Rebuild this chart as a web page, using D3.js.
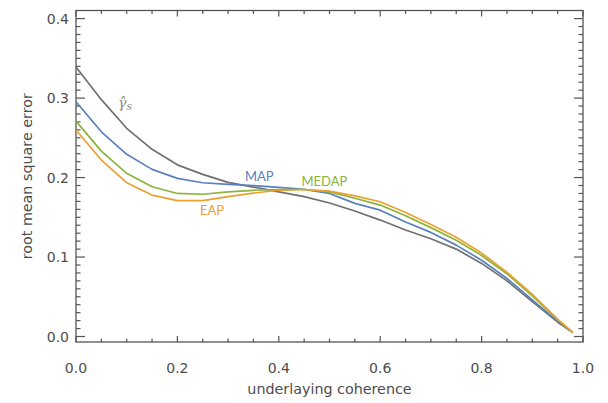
<!DOCTYPE html>
<html><head><meta charset="utf-8">
<script src="https://cdn.jsdelivr.net/npm/d3@7"></script>
<style>
html,body{margin:0;padding:0;background:#fff;}
svg{display:block;}
</style></head>
<body>
<svg id="c" width="608" height="403"></svg>
<script>
const coherence = [0,0.05,0.1,0.15,0.2,0.25,0.3,0.35,0.4,0.45,0.5,0.55,0.6,0.65,0.7,0.75,0.8,0.85,0.9,0.95,0.98];
const gammaS = [0.339,0.298,0.262,0.2355,0.216,0.204,0.194,0.188,0.182,0.176,0.168,0.158,0.1465,0.134,0.123,0.110,0.092,0.070,0.044,0.018,0.005];
const mapErr = [0.2953,0.2576,0.2292,0.2103,0.199,0.1935,0.1914,0.190,0.1877,0.1852,0.180,0.1675,0.159,0.144,0.131,0.115,0.096,0.073,0.046,0.019,0.005];
const medapErr = [0.271,0.2333,0.2053,0.1884,0.180,0.179,0.182,0.184,0.185,0.185,0.182,0.174,0.1654,0.152,0.137,0.121,0.102,0.079,0.051,0.021,0.005];
const eapErr = [0.2598,0.222,0.1935,0.178,0.171,0.171,0.176,0.1805,0.184,0.185,0.183,0.177,0.1696,0.156,0.141,0.125,0.105,0.081,0.053,0.022,0.005];
const xTicks = [0,0.2,0.4,0.6,0.8,1.0];
const yTicks = [0,0.1,0.2,0.3,0.4];
const seriesNames = ["γ̂s","MAP","MEDAP","EAP"];

const svg = d3.select("#c");
const L = 76, R = 583, T = 10.5, B = 342;
const x = d3.scaleLinear().domain([0,1]).range([L,R]);
const y = d3.scaleLinear().domain([-0.0069,0.4102]).range([B,T]);
const axisColor = "#555";
const textColor = "#4d4d4d";
const tickFont = "'DejaVu Sans', sans-serif";

// frame
svg.append("rect").attr("x",L).attr("y",T).attr("width",R-L).attr("height",B-T)
  .attr("fill","none").attr("stroke",axisColor).attr("stroke-width",1.3);

const xMinor = d3.range(0,1.0001,0.05);
const yMinor = d3.range(0,0.41,0.01);
const g = svg.append("g").attr("stroke",axisColor).attr("stroke-width",1.2);
xMinor.forEach(v=>{
  const major = xTicks.some(t=>Math.abs(t-v)<1e-6);
  const len = major?6:3.5;
  g.append("line").attr("x1",x(v)).attr("x2",x(v)).attr("y1",B).attr("y2",B-len);
  g.append("line").attr("x1",x(v)).attr("x2",x(v)).attr("y1",T).attr("y2",T+len);
});
yMinor.forEach(v=>{
  const major = yTicks.some(t=>Math.abs(t-v)<1e-6);
  const len = major?9:4.5;
  g.append("line").attr("x1",L).attr("x2",L+len).attr("y1",y(v)).attr("y2",y(v));
  g.append("line").attr("x1",R).attr("x2",R-len).attr("y1",y(v)).attr("y2",y(v));
});

// tick labels
svg.append("g").selectAll("text").data(xTicks).join("text")
  .attr("x",d=>x(d)).attr("y",372.5).attr("text-anchor","middle")
  .attr("font-family",tickFont).attr("font-size",14).attr("fill",textColor)
  .text(d=>d.toFixed(1));
svg.append("g").selectAll("text").data(yTicks).join("text")
  .attr("x",69).attr("y",d=>y(d)+5.1).attr("text-anchor","end")
  .attr("font-family",tickFont).attr("font-size",14).attr("fill",textColor)
  .text(d=>d.toFixed(1));

// axis titles
svg.append("text").attr("x",(L+R)/2).attr("y",394).attr("text-anchor","middle")
  .attr("font-family",tickFont).attr("font-size",14.3).attr("fill",textColor)
  .text("underlaying coherence");
svg.append("text").attr("transform",`translate(31.5,${(T+B)/2}) rotate(-90)`)
  .attr("text-anchor","middle")
  .attr("font-family",tickFont).attr("font-size",14.3).attr("fill",textColor)
  .text("root mean square error");

// lines
const line = d3.line().x((d,i)=>x(coherence[i])).y(d=>y(d));
const series = [
  {vals:gammaS, color:"#707070"},
  {vals:mapErr, color:"#5a80bd"},
  {vals:medapErr, color:"#8cb33b"},
  {vals:eapErr, color:"#eba12e"}
];
series.forEach(s=>{
  svg.append("path").attr("d",line(s.vals)).attr("fill","none")
    .attr("stroke",s.color).attr("stroke-width",1.7).attr("stroke-linejoin","round");
});

// series labels
const lblFont = "Lato, 'Open Sans', sans-serif";
const gl = svg.append("text").attr("x",118).attr("y",108).attr("font-family","'DejaVu Serif', serif")
  .attr("font-style","italic").attr("font-size",14).attr("fill","#8a8a8a");
gl.append("tspan").text("γ̂");
gl.append("tspan").attr("font-size",11).attr("dy",1.5).text("s");
svg.append("text").attr("x",245).attr("y",181).attr("font-family",lblFont).attr("font-size",13)
  .attr("fill","#5a80bd").text(seriesNames[1]);
svg.append("text").attr("x",301.5).attr("y",186).attr("font-family",lblFont).attr("font-size",13)
  .attr("fill","#8cb33b").text(seriesNames[2]);
svg.append("text").attr("x",200).attr("y",215).attr("font-family",lblFont).attr("font-size",13)
  .attr("fill","#eba12e").text(seriesNames[3]);
</script>
</body></html>
